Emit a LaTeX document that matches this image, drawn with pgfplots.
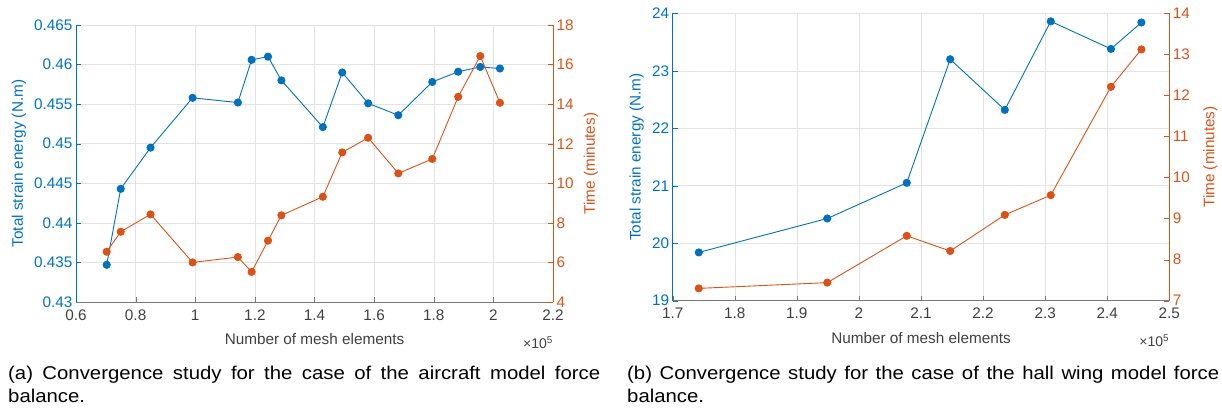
\documentclass[border=0pt]{standalone}
\usepackage{fontspec}
\setmainfont{Liberation Sans}
\newfontfamily\capfont[FakeStretch=1.1]{Liberation Sans}
\usepackage{pgfplots}
\usepackage{pgfplotstable}
\pgfplotsset{compat=1.18}
\definecolor{mblue}{RGB}{0,114,189}
\definecolor{morange}{RGB}{217,83,25}
\definecolor{axgray}{RGB}{120,120,120}
\definecolor{txtgray}{RGB}{64,64,64}

% Aircraft model: x in units of 1e5 elements
\pgfplotstableread{
x y
0.703 0.4347
0.750 0.4443
0.850 0.4495
0.991 0.4558
1.143 0.4552
1.189 0.4606
1.244 0.4610
1.289 0.4580
1.428 0.4521
1.493 0.4590
1.580 0.4551
1.681 0.4536
1.795 0.4578
1.882 0.4591
1.956 0.4597
2.022 0.4595
}\aEnergy
\pgfplotstableread{
x t
0.703 6.54
0.750 7.55
0.850 8.43
0.991 6.00
1.143 6.27
1.189 5.52
1.244 7.10
1.289 8.38
1.428 9.32
1.493 11.56
1.580 12.30
1.681 10.50
1.795 11.23
1.882 14.37
1.956 16.43
2.022 14.07
}\aTime
% Hall wing model
\pgfplotstableread{
x y
1.742 19.84
1.949 20.43
2.077 21.05
2.147 23.20
2.235 22.32
2.309 23.86
2.406 23.38
2.455 23.84
}\bEnergy
\pgfplotstableread{
x t
1.742 7.30
1.949 7.44
2.077 8.58
2.147 8.21
2.235 9.09
2.309 9.57
2.406 12.21
2.455 13.12
}\bTime

\pgfplotsset{
  mstyle/.style={
    scale only axis, clip=false,
    /pgf/number format/assume math mode=true,
    tick align=inside, major tick length=5pt,
    tick label style={font=\fontsize{15.3}{18}\selectfont},
    label style={font=\fontsize{15.3}{18}\selectfont},
  },
  leftax/.style={mstyle,
    axis x line*=bottom, axis y line*=left,
    x axis line style={axgray, line width=0.6pt}, xtick style={axgray},
    xticklabel style={txtgray, yshift=-4pt},
    y axis line style={mblue, line width=0.6pt}, ytick style={mblue},
    yticklabel style={mblue},
    grid=major, major grid style={black!11, line width=0.5pt},
  },
  rightax/.style={mstyle,
    axis x line=none, axis y line*=right,
    y axis line style={morange, line width=0.6pt}, ytick style={morange},
    yticklabel style={morange},
  },
  bser/.style={mblue, line width=0.9pt, mark=*, mark size=3.6pt, mark options={solid, fill=mblue}},
  oser/.style={morange, line width=0.9pt, mark=*, mark size=3.6pt, mark options={solid, fill=morange}},
}

\begin{document}
\begin{tikzpicture}
\path[use as bounding box] (0,0) rectangle (1222pt,411pt);

% ---------------- (a) ----------------
\begin{axis}[leftax,
  at={(76pt,109pt)}, anchor=south west, width=477pt, height=277pt,
  xmin=0.6, xmax=2.2, ymin=0.43, ymax=0.465,
  xtick={0.6,0.8,1,1.2,1.4,1.6,1.8,2,2.2},
  ytick={0.43,0.435,0.44,0.445,0.45,0.455,0.46,0.465},
  yticklabel style={/pgf/number format/precision=3},
  xlabel={Number of mesh elements},
  ylabel={Total strain energy (N.m)},
  xlabel style={txtgray, at={([yshift=-37pt]axis description cs:0.5,0)}, anchor=center},
  ylabel style={mblue, at={([xshift=-57pt]axis description cs:0,0.5)}, anchor=center},
]
\addplot[bser] table[x=x, y=y] {\aEnergy};
\node[anchor=east, txtgray, font=\fontsize{14}{16}\selectfont, inner sep=0pt]
  at ([yshift=-41pt]rel axis cs:1,0) {×10\textsuperscript{5}};
\end{axis}
\begin{axis}[rightax,
  at={(76pt,109pt)}, anchor=south west, width=477pt, height=277pt,
  xmin=0.6, xmax=2.2, ymin=4, ymax=18,
  ytick={4,6,8,10,12,14,16,18},
  ylabel={Time (minutes)},
  ylabel style={morange, at={([xshift=38pt]axis description cs:1,0.5)}, anchor=center},
]
\addplot[oser] table[x=x, y=t] {\aTime};
\end{axis}

% ---------------- (b) ----------------
\begin{axis}[leftax,
  at={(672.7pt,110.3pt)}, anchor=south west, width=496.6pt, height=287.4pt,
  xmin=1.7, xmax=2.5, ymin=19, ymax=24,
  xtick={1.7,1.8,1.9,2,2.1,2.2,2.3,2.4,2.5},
  ytick={19,20,21,22,23,24},
  xlabel={Number of mesh elements},
  ylabel={Total strain energy (N.m)},
  xlabel style={txtgray, at={([yshift=-37pt]axis description cs:0.5,0)}, anchor=center},
  ylabel style={mblue, at={([xshift=-36pt]axis description cs:0,0.5)}, anchor=center},
]
\addplot[bser] table[x=x, y=y] {\bEnergy};
\node[anchor=east, txtgray, font=\fontsize{14}{16}\selectfont, inner sep=0pt]
  at ([yshift=-40pt]rel axis cs:1,0) {×10\textsuperscript{5}};
\end{axis}
\begin{axis}[rightax,
  at={(672.7pt,110.3pt)}, anchor=south west, width=496.6pt, height=287.4pt,
  xmin=1.7, xmax=2.5, ymin=7, ymax=14,
  ytick={7,8,9,10,11,12,13,14},
  ylabel={Time (minutes)},
  ylabel style={morange, at={([xshift=41pt]axis description cs:1,0.5)}, anchor=center},
]
\addplot[oser] table[x=x, y=t] {\bTime};
\end{axis}

% ---------------- captions ----------------
\node[anchor=base west, inner sep=0pt, text width=592pt, align=justify,
      font=\capfont\fontsize{18.5}{23}\selectfont] at (8pt,31pt)
  {\hyphenpenalty=10000 (a) Convergence study for the case of the aircraft model force \mbox{balance.}};
\node[anchor=base west, inner sep=0pt, text width=592pt, align=justify,
      font=\capfont\fontsize{18.5}{23}\selectfont] at (627pt,31pt)
  {\hyphenpenalty=10000 (b) Convergence study for the case of the hall wing model force \mbox{balance.}};
\end{tikzpicture}
\end{document}
